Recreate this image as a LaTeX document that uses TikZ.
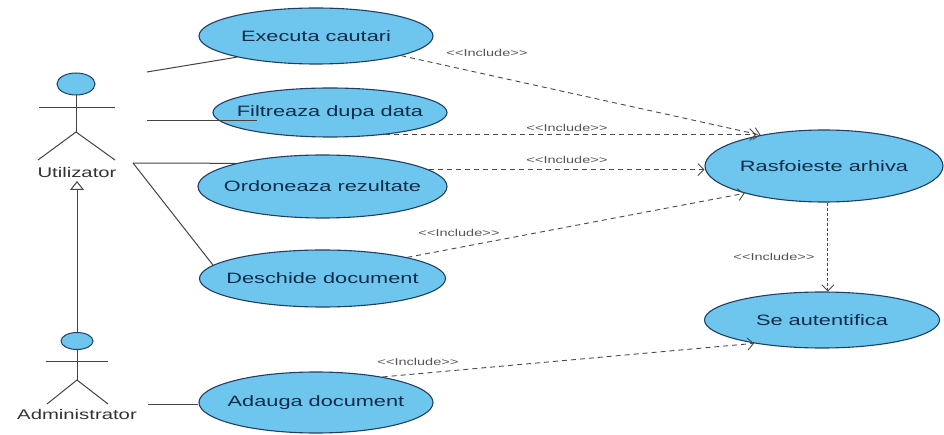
\documentclass[tikz,border=0pt]{standalone}
\usepackage{fontspec}
\setmainfont{Liberation Sans}[FakeStretch=1.45]
\usetikzlibrary{arrows.meta,shapes.geometric}
\definecolor{ucfill}{HTML}{6EC6EE}
\definecolor{ucdraw}{HTML}{1F3F66}
\definecolor{uctextcol}{HTML}{0E2C48}
\definecolor{linecol}{HTML}{444444}
\definecolor{inclcol}{HTML}{4A4A4A}
\definecolor{lblcol}{HTML}{555555}
\definecolor{actcol}{HTML}{333333}
\newcommand\inclabel{<\kern0.4pt<Include>\kern0.4pt>}
\begin{document}
\begin{tikzpicture}[x=1pt,y=-1pt,
  uc/.style={ellipse, draw=ucdraw, fill=ucfill, line width=1.1pt, inner sep=0pt},
  uctext/.style={text=uctextcol, font=\fontsize{15}{18}\selectfont, inner sep=0pt},
  assoc/.style={draw=linecol, line width=1pt},
  incl/.style={draw=inclcol, line width=0.9pt, dash pattern=on 5pt off 4pt, -{Straight Barb[length=6pt,width=12pt]}},
  incltext/.style={text=lblcol, font=\fontsize{10}{12}\selectfont, inner sep=0pt},
  actortext/.style={text=actcol, font=\fontsize{14}{16}\selectfont, inner sep=0pt},
  stick/.style={draw=linecol, line width=1pt},
  headstyle/.style={ellipse, draw=ucdraw, fill=ucfill, line width=1pt, inner sep=0pt}]
\useasboundingbox (0,0) rectangle (944,435);
\fill[white] (0,0) rectangle (944,435);

% use cases
\node[uc, minimum width=234pt, minimum height=56pt] (exec) at (316,36) {};
\node[uctext] (exec-t) at (exec) {Executa cautari};
\node[uc, minimum width=234pt, minimum height=49pt] (filt) at (330,112.5) {};
\node[uctext] (filt-t) at (filt) {Filtreaza dupa data};
\node[uc, minimum width=249pt, minimum height=63pt] (ord) at (322.5,186.5) {};
\node[uctext] (ord-t) at (ord) {Ordoneaza rezultate};
\node[uc, minimum width=246pt, minimum height=57pt] (desc) at (322.5,278.5) {};
\node[uctext] (desc-t) at (desc) {Deschide document};
\node[uc, minimum width=234pt, minimum height=61pt] (adau) at (316,402.5) {};
\node[uctext] (adau-t) at (adau) {Adauga document};
\node[uc, minimum width=238pt, minimum height=72pt] (rasf) at (824,166) {};
\node[uctext] (rasf-t) at (rasf) {Rasfoieste arhiva};
\node[uc, minimum width=235pt, minimum height=56pt] (seau) at (822,320) {};
\node[uctext] (seau-t) at (seau) {Se autentifica};

% actor Utilizator
\node[headstyle, minimum width=38pt, minimum height=22pt] (uhead) at (76,84) {};
\coordinate (uhip) at (76,132);
\coordinate (uarmL) at (39,108);
\coordinate (uarmR) at (115,108);
\coordinate (ulegL) at (38,160);
\coordinate (ulegR) at (115,160);
\draw[stick] (uhead.south) -- (uhip);
\draw[stick] (uarmL) -- (uarmR);
\draw[stick] (ulegL) -- (uhip) -- (ulegR);
\node[actortext] (ulabel) at (77,172) {Utilizator};

% actor Administrator
\node[headstyle, minimum width=32pt, minimum height=17pt] (ahead) at (77,341) {};
\coordinate (ahip) at (77,380);
\coordinate (aarmL) at (46,361);
\coordinate (aarmR) at (108,361);
\coordinate (alegL) at (47,404);
\coordinate (alegR) at (108,404);
\draw[stick] (ahead.south) -- (ahip);
\draw[stick] (aarmL) -- (aarmR);
\draw[stick] (alegL) -- (ahip) -- (alegR);
\node[actortext] (alabel) at (77,414) {Administrator};

% generalization
\coordinate (gtip) at (77,181);
\draw[stick, -{Triangle[open, length=9pt, width=14pt, fill=white]}] (ahead.north) -- (gtip);

% associations
\coordinate (u1) at (147,72);
\coordinate (u2) at (147,121);
\coordinate (u3) at (133,163);
\coordinate (a1) at (148,404);
\draw[assoc] (u1) -- (exec.195);
\draw[assoc] (u2) -- (u2 -| filt.195);
\draw[assoc] (u3) -- (ord.165);
\draw[assoc] (u3) -- (desc.173);
\draw[assoc] (a1) -- (a1 -| adau.west);

% includes
\draw[incl] (exec.-13) -- (rasf.154);
\draw[incl] (filt.-22) -- (filt.-22 -| rasf.156);
\draw[incl] (ord.9) -- (ord.9 -| rasf.west);
\draw[incl] (desc.14.5) -- (rasf.199.6);
\draw[incl, dash pattern=on 3pt off 2pt] (rasf.-84) -- (rasf.-84 |- seau.north);
\draw[incl] (adau.21.7) -- (seau.199.5);

\node[incltext] (l1) at (487,53) {\inclabel};
\node[incltext] (l2) at (567,128) {\inclabel};
\node[incltext] (l3) at (567,160) {\inclabel};
\node[incltext] (l4) at (459,233) {\inclabel};
\node[incltext] (l5) at (774,257) {\inclabel};
\node[incltext] (l6) at (418,362) {\inclabel};
\end{tikzpicture}
\end{document}
